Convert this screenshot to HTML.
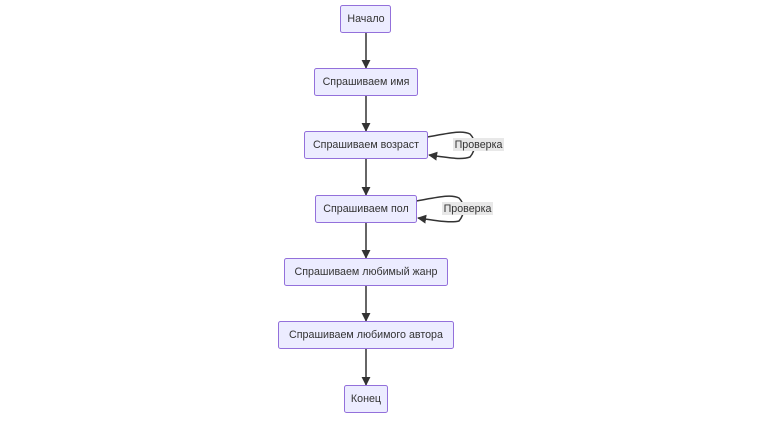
<!DOCTYPE html>
<html><head><meta charset="utf-8"><style>
body{margin:0;background:#fff;width:783px;height:419px;overflow:hidden}
text{font-family:"Liberation Sans",sans-serif;font-size:10.7px;fill:#333}
</style></head><body>
<svg width="783" height="419" xmlns="http://www.w3.org/2000/svg">
<defs><marker id="a" viewBox="0 0 10 10" refX="9" refY="5" markerWidth="9" markerHeight="9" orient="auto-start-reverse" markerUnits="userSpaceOnUse"><path d="M0,0L10,5L0,10z" fill="#333"/></marker></defs>
<g stroke="#333" stroke-width="1.5" fill="none" marker-end="url(#a)">
<line x1="366" y1="33" x2="366" y2="68"/>
<line x1="366" y1="96" x2="366" y2="131"/>
<line x1="366" y1="159" x2="366" y2="195"/>
<line x1="366" y1="223" x2="366" y2="258"/>
<line x1="366" y1="286" x2="366" y2="321"/>
<line x1="366" y1="349" x2="366" y2="385"/>
<path d="M427,137 C450,133 462,130 470,134 C476,140 476,150 470,157 C462,160 450,158 429,155"/>
<path d="M416,201 C439,197 451,194 459,198 C465,204 465,214 459,221 C451,223 439,221 418,218"/>
</g>
<g fill="#ECECFF" stroke="#9370DB" stroke-width="1">
<rect x="340.5" y="5.5" width="50" height="27" rx="2"/>
<rect x="314.5" y="68.5" width="103" height="27" rx="2"/>
<rect x="304.5" y="131.5" width="123" height="27" rx="2"/>
<rect x="315.5" y="195.5" width="101" height="27" rx="2"/>
<rect x="284.5" y="258.5" width="163" height="27" rx="2"/>
<rect x="278.5" y="321.5" width="175" height="27" rx="2"/>
<rect x="344.5" y="385.5" width="43" height="27" rx="2"/>
</g>
<rect x="453" y="138" width="51" height="13" fill="#e8e8e8"/>
<rect x="442" y="202" width="51" height="13" fill="#e8e8e8"/>
<g text-anchor="middle">
<text x="366" y="22">Начало</text>
<text x="366" y="85">Спрашиваем имя</text>
<text x="366" y="148">Спрашиваем возраст</text>
<text x="366" y="212">Спрашиваем пол</text>
<text x="366" y="275">Спрашиваем любимый жанр</text>
<text x="366" y="338">Спрашиваем любимого автора</text>
<text x="366" y="402">Конец</text>
<text x="478.5" y="148">Проверка</text>
<text x="467.5" y="212">Проверка</text>
</g>
</svg>
</body></html>
